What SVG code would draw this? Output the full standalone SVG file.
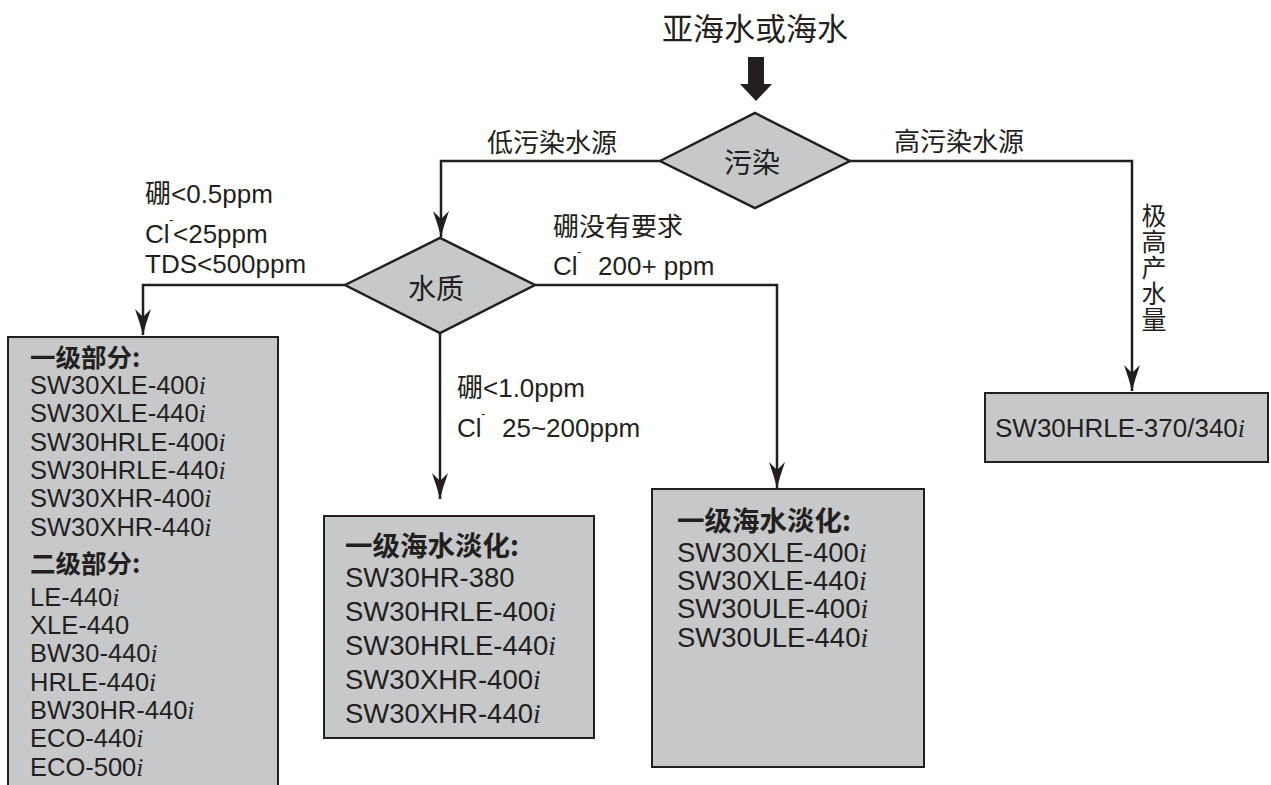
<svg xmlns="http://www.w3.org/2000/svg" width="1271" height="785" viewBox="0 0 1271 785">
<style>
  text { font-family: "Liberation Sans", "Noto Sans CJK SC", sans-serif; fill: #231f20; }
  .cjk { font-family: "Noto Sans CJK SC", sans-serif; }
  .lbl { font-size: 26px; }
  .bx { fill: #c7c8ca; stroke: #231f20; stroke-width: 2; }
  .dm { fill: #c7c8ca; stroke: #231f20; stroke-width: 2.5; }
  .ln { fill: none; stroke: #231f20; stroke-width: 2.5; }
  .it { font-family: "Liberation Serif", "DejaVu Serif", serif; font-style: italic; }
  .b { font-weight: bold; }
  .sup { font-size: 13px; }
</style>
<defs>
  <marker id="ah" viewBox="0 0 26 16" refX="26" refY="8" markerWidth="26" markerHeight="16" markerUnits="userSpaceOnUse" orient="auto">
    <path d="M0,0 Q14,5 26,8 Q14,11 0,16 L8,8 Z" fill="#231f20"/>
  </marker>
</defs>
<rect width="1271" height="785" fill="#ffffff"/>

<g id="title">
  <text class="cjk" x="755" y="40" font-size="31" text-anchor="middle">亚海水或海水</text>
  <polygon points="748,57 764,57 764,84 772,84 756,101 740,84 748,84" fill="#231f20"/>
</g>

<g id="connectors">
  <path class="ln" d="M660,161 H441 V237" marker-end="url(#ah)"/>
  <path class="ln" d="M850,161 H1132 V391" marker-end="url(#ah)"/>
  <path class="ln" d="M345,285 H143 V335" marker-end="url(#ah)"/>
  <path class="ln" d="M440,333 V499" marker-end="url(#ah)"/>
  <path class="ln" d="M535,285 H777 V488" marker-end="url(#ah)"/>
  <text class="cjk lbl" x="487" y="152">低污染水源</text>
  <text class="cjk lbl" x="894" y="151">高污染水源</text>
  <text class="cjk" x="1154" y="203" font-size="25" writing-mode="vertical-rl" letter-spacing="1">极高产水量</text>
  <text class="lbl" x="145" y="203">硼&lt;0.5ppm</text>
  <text class="lbl" x="145" y="243">Cl<tspan class="sup" x="169" y="224">-</tspan><tspan x="173" y="243">&lt;25ppm</tspan></text>
  <text class="lbl" x="145" y="273">TDS&lt;500ppm</text>
  <text class="lbl" x="553" y="236">硼没有要求</text>
  <text class="lbl" x="553" y="275">Cl<tspan class="sup" x="577" y="256">-</tspan><tspan x="598" y="275">200+ ppm</tspan></text>
  <text class="lbl" x="457" y="397">硼&lt;1.0ppm</text>
  <text class="lbl" x="457" y="437">Cl<tspan class="sup" x="481" y="418">-</tspan><tspan x="502" y="437">25~200ppm</tspan></text>
</g>

<g id="node-pollution">
  <polygon class="dm" points="660,161 755,113 850,161 755,208"/>
  <text class="cjk" x="752" y="173" font-size="28" text-anchor="middle">污染</text>
</g>

<g id="node-quality">
  <polygon class="dm" points="345,285 440,238 535,285 440,333"/>
  <text class="cjk" x="436" y="299" font-size="28" text-anchor="middle">水质</text>
</g>

<g id="box-left">
  <rect class="bx" x="8" y="337" width="270" height="470"/>
  <g font-size="25.5">
    <text class="cjk b" x="30" y="367">一级部分:</text>
    <text x="30" y="394">SW30XLE-400<tspan class="it">i</tspan></text>
    <text x="30" y="422">SW30XLE-440<tspan class="it">i</tspan></text>
    <text x="30" y="451">SW30HRLE-400<tspan class="it">i</tspan></text>
    <text x="30" y="479">SW30HRLE-440<tspan class="it">i</tspan></text>
    <text x="30" y="507">SW30XHR-400<tspan class="it">i</tspan></text>
    <text x="30" y="536">SW30XHR-440<tspan class="it">i</tspan></text>
    <text class="cjk b" x="30" y="573">二级部分:</text>
    <text x="30" y="606">LE-440<tspan class="it">i</tspan></text>
    <text x="30" y="634">XLE-440</text>
    <text x="30" y="662">BW30-440<tspan class="it">i</tspan></text>
    <text x="30" y="691">HRLE-440<tspan class="it">i</tspan></text>
    <text x="30" y="719">BW30HR-440<tspan class="it">i</tspan></text>
    <text x="30" y="747">ECO-440<tspan class="it">i</tspan></text>
    <text x="30" y="776">ECO-500<tspan class="it">i</tspan></text>
  </g>
</g>

<g id="box-middle">
  <rect class="bx" x="324" y="516" width="270" height="222"/>
  <g font-size="27.5">
    <text class="cjk b" x="345" y="556">一级海水淡化:</text>
    <text x="345" y="587">SW30HR-380</text>
    <text x="345" y="621">SW30HRLE-400<tspan class="it">i</tspan></text>
    <text x="345" y="655">SW30HRLE-440<tspan class="it">i</tspan></text>
    <text x="345" y="689">SW30XHR-400<tspan class="it">i</tspan></text>
    <text x="345" y="723">SW30XHR-440<tspan class="it">i</tspan></text>
  </g>
</g>

<g id="box-right-middle">
  <rect class="bx" x="652" y="489" width="272" height="278"/>
  <g font-size="27.5">
    <text class="cjk b" x="677" y="531">一级海水淡化:</text>
    <text x="677" y="562">SW30XLE-400<tspan class="it">i</tspan></text>
    <text x="677" y="590">SW30XLE-440<tspan class="it">i</tspan></text>
    <text x="677" y="618">SW30ULE-400<tspan class="it">i</tspan></text>
    <text x="677" y="647">SW30ULE-440<tspan class="it">i</tspan></text>
  </g>
</g>

<g id="box-right">
  <rect class="bx" x="985" y="393" width="283" height="69"/>
  <text x="995" y="437" font-size="26">SW30HRLE-370/340<tspan class="it">i</tspan></text>
</g>
</svg>
